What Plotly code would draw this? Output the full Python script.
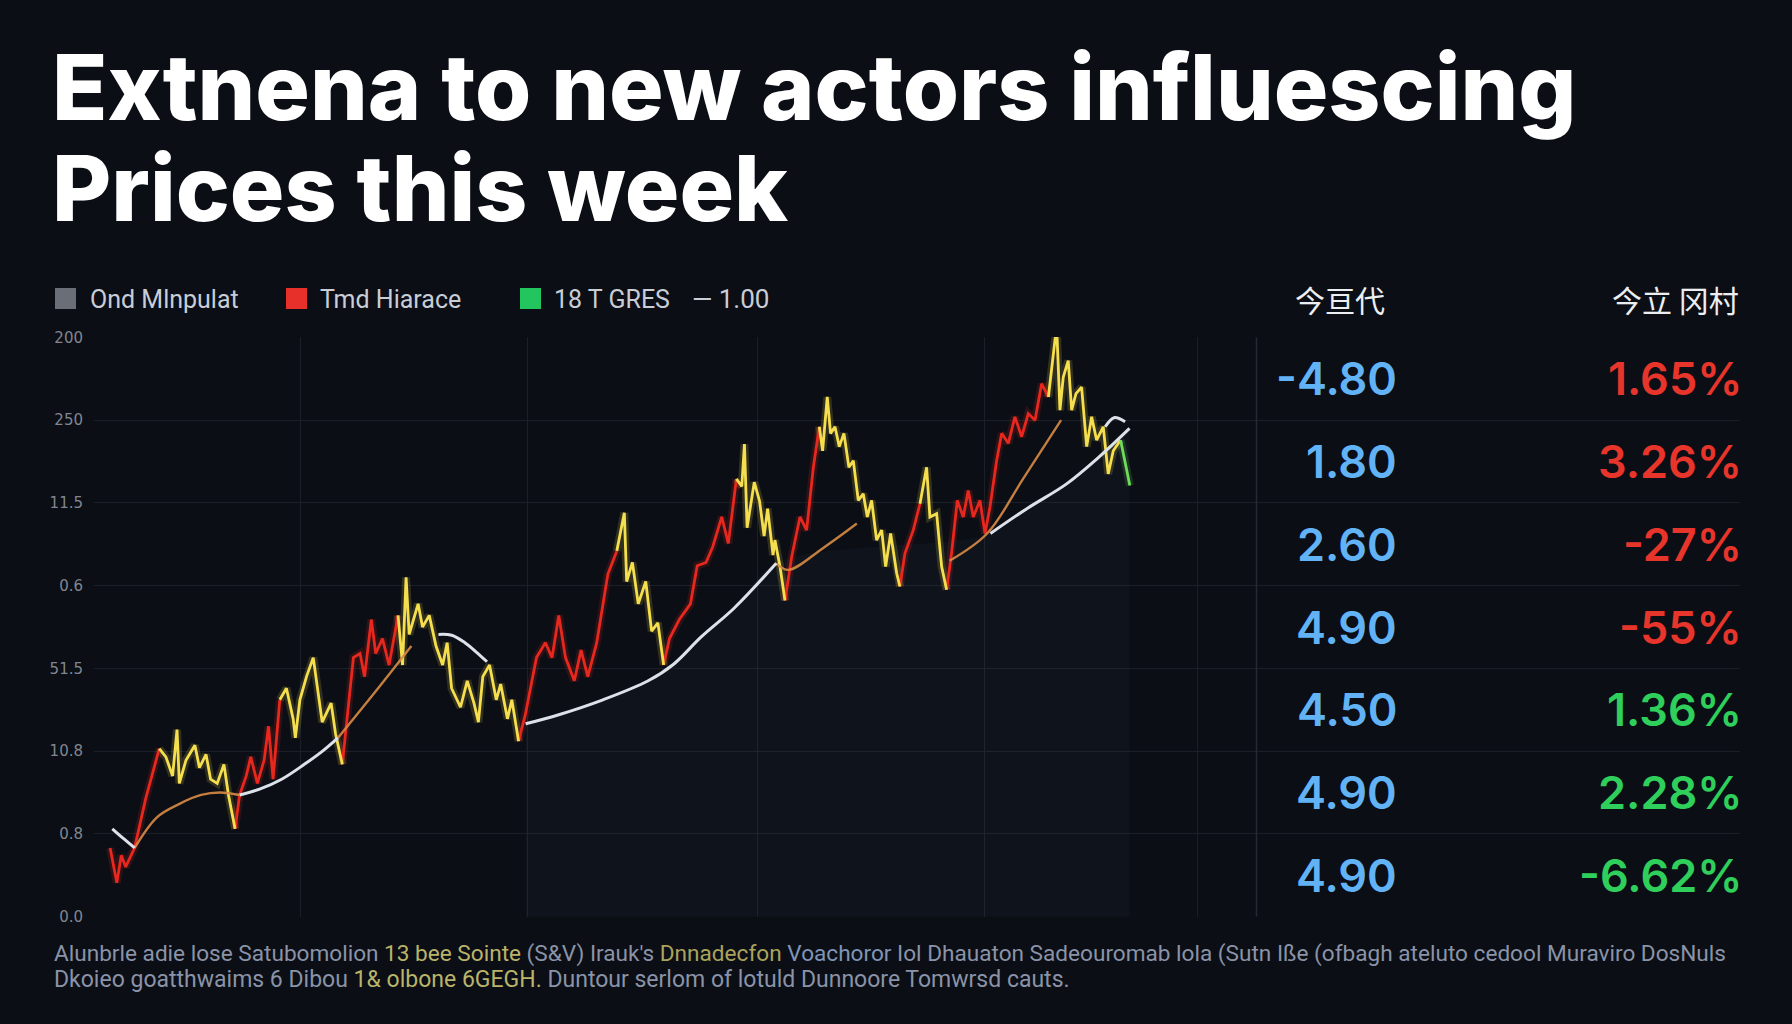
import plotly.graph_objects as go

# ---------------- data ----------------
session = [1.46, 2.07, 2.47, 2.87, 3.68, 4.69, 5.91, 6.51, 7.12, 7.52, 7.73, 8.33, 9.14, 9.55, 10.15,
           10.56, 11.16, 11.77, 12.18, 12.78, 13.19, 13.79, 14.20, 14.80, 15.41, 15.81, 16.22, 16.83,
           17.43, 18.04, 18.24, 18.65, 19.25, 19.86, 20.26, 20.67, 21.48, 21.88, 22.49, 23.50, 24.10,
           24.51, 25.12, 25.52, 26.13, 26.73, 27.54, 27.95, 28.27, 28.55, 29.36, 29.76, 30.37, 30.98,
           31.58, 31.99, 32.39, 33.20, 33.81, 34.42, 34.82, 35.22, 35.83, 36.44, 36.84, 37.45, 37.85,
           38.46, 39.07, 40.08, 40.89, 41.49, 42.10, 42.71, 43.51, 44.12, 44.73, 45.54, 46.55, 47.36,
           48.04, 48.25, 48.77, 49.30, 49.98, 50.51, 51.08, 51.60, 52.13, 53.02, 54.03, 54.64, 55.44,
           56.05, 56.86, 57.46, 58.19, 58.68, 58.92, 59.16, 59.81, 60.29, 60.70, 61.02, 61.51, 61.68,
           62.14, 62.59, 63.20, 63.95, 64.55, 65.16, 65.70, 66.00, 66.42, 66.72, 67.12, 67.51, 67.93,
           68.38, 68.78, 69.23, 69.68, 70.05, 70.44, 70.89, 71.35, 71.71, 72.16, 72.71, 73.00, 73.46,
           74.21, 74.82, 75.42, 75.72, 76.33, 76.78, 77.23, 77.68, 78.20, 78.74, 79.19, 79.65, 80.25,
           80.71, 81.16, 81.76, 82.22, 82.82, 83.42, 84.03, 84.63, 85.24, 85.84, 86.45, 86.84, 87.20,
           87.50, 87.80, 88.25, 88.56, 88.95, 89.46, 89.92, 90.37, 90.82, 91.42, 91.87, 92.33, 92.99,
           93.38, 93.83]
price = [0.83, 0.41, 0.74, 0.60, 0.83, 1.43, 2.03, 1.93, 1.70, 2.26, 1.61, 1.89, 2.07, 1.80, 1.96,
         1.66, 1.61, 1.84, 1.47, 1.06, 1.47, 1.70, 1.93, 1.61, 1.89, 2.30, 1.66, 2.62,
         2.76, 2.39, 2.16, 2.62, 2.90, 3.13, 2.76, 2.35, 2.58, 2.21, 1.84, 3.13, 3.18,
         2.90, 3.59, 3.18, 3.36, 3.04, 3.64, 3.04, 4.10, 3.41, 3.78, 3.50, 3.64, 3.27,
         3.04, 3.31, 2.76, 2.53, 2.85, 2.58, 2.35, 2.90, 3.04, 2.62, 2.81, 2.39, 2.62,
         2.12, 2.44, 3.13, 3.31, 3.13, 3.64, 3.13, 2.85, 3.22, 2.90, 3.31, 4.14, 4.42,
         4.88, 4.05, 4.28, 3.78, 4.05, 3.45, 3.55, 3.04, 3.36, 3.59, 3.78, 4.24, 4.28,
         4.47, 4.83, 4.51, 5.29, 5.20, 5.71, 4.70, 5.25, 5.02, 4.60, 4.93, 4.37, 4.55,
         4.23, 3.82, 4.35, 4.83, 4.67, 5.43, 5.92, 5.63, 6.28, 5.84, 5.92, 5.68, 5.84,
         5.43, 5.51, 5.03, 5.11, 4.83, 5.03, 4.55, 4.67, 4.23, 4.63, 4.15, 3.99, 4.39,
         4.67, 4.99, 5.43, 4.83, 4.87, 4.23, 3.95, 4.39, 5.03, 4.83, 5.15, 4.83, 5.03,
         4.63, 4.95, 5.51, 5.84, 5.72, 6.04, 5.80, 6.08, 6.00, 6.44, 6.28, 6.72, 7.14,
         6.12, 6.52, 6.72, 6.12, 6.32, 6.40, 5.68, 6.04, 5.76, 5.92, 5.35, 5.63, 5.76,
         5.51, 5.21]

# end of each price leg and its direction
leg_end = [5.91, 12.78, 16.83, 22.49, 27.54, 38.46, 47.36, 51.60, 58.19, 62.59, 65.70, 73.00,
           74.82, 77.23, 86.45, 92.99, 93.83]
leg_trend = ["up", "down", "up", "down", "up", "down", "up", "down", "up", "down", "up", "down",
             "up", "down", "up", "down", "last"]

# moving averages (segments visible in the picture)
slow_ma_x = [[1.66, 2.60, 3.68], [13.2, 15.0, 17.0, 19.05, 20.7, 22.1], [31.2, 32.4, 33.6, 34.6, 35.6],
             [39.1, 42.1, 46.1, 50.2, 52.5, 55.0, 58.0, 61.8], [81.2, 84.5, 88.1, 91.0, 93.8],
             [91.6, 92.4, 93.4]]
slow_ma_y = [[1.06, 0.95, 0.83], [1.47, 1.54, 1.66, 1.84, 2.00, 2.16], [3.41, 3.40, 3.31, 3.20, 3.08],
             [2.33, 2.44, 2.62, 2.85, 3.05, 3.38, 3.73, 4.27], [4.63, 4.93, 5.23, 5.55, 5.90],
             [5.92, 6.03, 5.98]]
fast_ma_x = [[3.68, 5.7, 7.7, 9.7, 11.4, 13.2], [22.1, 25.5, 28.75], [61.8, 62.9, 66.0, 69.1],
             [77.5, 80.9, 84.2, 87.6]]
fast_ma_y = [[0.83, 1.20, 1.36, 1.47, 1.50, 1.47], [2.16, 2.72, 3.27], [4.27, 4.19, 4.45, 4.75],
             [4.30, 4.63, 5.30, 6.00]]

y_ticks = [0, 1, 2, 3, 4, 5, 6, 7]
y_ticktext = ["0.0", "0.8", "10.8", "51.5", "0.6", "11.5", "250", "200"]

legend_labels = ["Ond Mlnpulat", "Tmd Hiarace", "18 T GRES"]
legend_extra = "— 1.00"

table_headers = ["今亘代", "今立 冈村"]
table_col1 = ["-4.80", "1.80", "2.60", "4.90", "4.50", "4.90", "4.90"]
table_col2 = ["1.65%", "3.26%", "-27%", "-55%", "1.36%", "2.28%", "-6.62%"]
table_col2_sign = ["red", "red", "red", "red", "green", "green", "green"]

title_lines = ["Extnena to new actors influescing", "Prices this week"]
footer_lines = [
    "Alunbrle adie lose Satubomolion <span style='color:#b9b46a'>13 bee Sointe</span> (S&V) Irauk's "
    "<span style='color:#a9a35c'>Dnnadecfon</span> <span style='color:#7f95b8'>Voachoror</span> Iol Dhauaton "
    "Sadeouromab lola (Sutn Iße (ofbagh ateluto cedool Muraviro DosNuls",
    "Dkoieo goatthwaims 6 Dibou <span style='color:#b9b46a'>1& olbone 6GEGH.</span> Duntour serlom of lotuld "
    "Dunnoore Tomwrsd cauts.",
]

# ---------------- styling ----------------
BG = "#0b0e15"
GRID = "#1b1f28"
RED = "#e8281e"
YELLOW = "#f6df4f"
GREEN = "#6fdc5a"
BLUE = "#62b3f5"
TRED = "#e8352b"
TGREEN = "#2fcf5b"

L, R, T, B = 94, 1740, 337, 917  # plot area in pixels


def pxx(x):
    return (x - L) / (R - L)


def pyy(y):
    return (B - y) / (B - T)


fig = go.Figure()

# subtle area under the slow moving average
area_x = slow_ma_x[3] + slow_ma_x[4]
area_y = slow_ma_y[3] + slow_ma_y[4]
fig.add_trace(go.Scatter(x=area_x, y=area_y, mode="lines", line=dict(width=0, shape="spline"),
                         fill="tozeroy", fillcolor="rgba(140,150,170,0.04)", hoverinfo="skip",
                         showlegend=False))

# price legs
colors = {"up": RED, "down": YELLOW, "last": GREEN}
segs = {"up": ([], []), "down": ([], []), "last": ([], [])}
start = 0
for end_x, trend in zip(leg_end, leg_trend):
    idx = session.index(end_x)
    xs, ys = segs[trend]
    xs.extend(session[start:idx + 1] + [None])
    ys.extend(price[start:idx + 1] + [None])
    start = idx

for trend in ["up", "down", "last"]:
    xs, ys = segs[trend]
    fig.add_trace(go.Scatter(x=xs, y=ys, mode="lines", line=dict(color=colors[trend], width=8),
                             opacity=0.16, hoverinfo="skip", showlegend=False, connectgaps=False))
for trend in ["up", "down", "last"]:
    xs, ys = segs[trend]
    fig.add_trace(go.Scatter(x=xs, y=ys, mode="lines", line=dict(color=colors[trend], width=2.8),
                             showlegend=False, connectgaps=False))

# moving averages
for xs, ys in zip(fast_ma_x, fast_ma_y):
    fig.add_trace(go.Scatter(x=xs, y=ys, mode="lines", line=dict(color="#d88b45", width=2.4, shape="spline"),
                             opacity=0.9, showlegend=False))
for xs, ys in zip(slow_ma_x, slow_ma_y):
    fig.add_trace(go.Scatter(x=xs, y=ys, mode="lines", line=dict(color="#dde2ea", width=3, shape="spline"),
                             showlegend=False))

annotations = []
shapes = []

# title
for i, line in enumerate(title_lines):
    annotations.append(dict(text=line, xref="paper", yref="paper", x=pxx(50), y=pyy(87 + 101 * i),
                            xanchor="left", yanchor="middle", showarrow=False,
                            font=dict(family="Inter", size=91, color="#ffffff", weight=800)))

# legend
leg_sq_x = [55, 286, 520]
leg_txt_x = [88, 318, 552]
leg_cols = ["#6a6e77", "#e8302a", "#22c55e"]
for sx, tx, lab, col in zip(leg_sq_x, leg_txt_x, legend_labels, leg_cols):
    shapes.append(dict(type="rect", xref="paper", yref="paper", x0=pxx(sx), x1=pxx(sx + 21),
                       y0=pyy(309), y1=pyy(288), fillcolor=col, line=dict(width=0)))
    annotations.append(dict(text=lab, xref="paper", yref="paper", x=pxx(tx), y=pyy(299),
                            xanchor="left", yanchor="middle", showarrow=False,
                            font=dict(family="Roboto", size=25, color="#c9cdd5")))
annotations.append(dict(text=legend_extra, xref="paper", yref="paper", x=pxx(690), y=pyy(299),
                        xanchor="left", yanchor="middle", showarrow=False,
                        font=dict(family="Roboto", size=26, color="#c9cdd5")))

# table header
annotations.append(dict(text=table_headers[0], xref="paper", yref="paper", x=pxx(1340), y=pyy(299),
                        xanchor="center", yanchor="middle", showarrow=False,
                        font=dict(family="Noto Sans CJK SC", size=30, color="#eceef2")))
annotations.append(dict(text=table_headers[1], xref="paper", yref="paper", x=pxx(1741), y=pyy(299),
                        xanchor="right", yanchor="middle", showarrow=False,
                        font=dict(family="Noto Sans CJK SC", size=30, color="#eceef2")))

# table rows
for i, (v1, v2, sgn) in enumerate(zip(table_col1, table_col2, table_col2_sign)):
    yc = y_ticks[-1] - 0.5 - i
    annotations.append(dict(text=v1, xref="paper", yref="y", x=pxx(1399), y=yc, xanchor="right",
                            yanchor="middle", showarrow=False,
                            font=dict(family="Inter", size=45, color=BLUE, weight=600)))
    annotations.append(dict(text=v2, xref="paper", yref="y", x=pxx(1744), y=yc, xanchor="right",
                            yanchor="middle", showarrow=False,
                            font=dict(family="Inter", size=45, color=TRED if sgn == "red" else TGREEN,
                                      weight=600)))

# table divider
shapes.append(dict(type="line", xref="x", yref="y", x0=105.3, x1=105.3, y0=0, y1=7,
                   line=dict(color="#242934", width=1.5)))

# footer
footer_sizes = [22.6, 23]
for i, (line, fs) in enumerate(zip(footer_lines, footer_sizes)):
    annotations.append(dict(text=line, xref="paper", yref="paper", x=pxx(52), y=pyy(953 + 26 * i),
                            xanchor="left", yanchor="middle", showarrow=False,
                            font=dict(family="Roboto", size=fs, color="#8a93a7")))

fig.update_layout(
    width=1792, height=1024,
    paper_bgcolor=BG, plot_bgcolor=BG,
    margin=dict(l=L, r=1792 - R, t=T, b=1024 - B, pad=0),
    showlegend=False,
    xaxis=dict(range=[0, 149.1], tickvals=[0, 18.75, 39.3, 60.1, 80.7, 100], showticklabels=False,
               showgrid=True, gridcolor=GRID, gridwidth=1, zeroline=False, showline=False, ticks=""),
    yaxis=dict(range=[-0.005, 7.005], tickvals=y_ticks, ticktext=y_ticktext, showgrid=True,
               gridcolor=GRID, gridwidth=1.2, zeroline=False, showline=False, ticks="",
               tickfont=dict(family="DejaVu Sans", size=15, color="#80858f"), ticklabelstandoff=10),
    annotations=annotations,
    shapes=shapes,
)

fig.write_html(
    "out.html",
    config={"displayModeBar": False},
    post_script="document.body.style.margin='0px';document.body.style.background='#0b0e15';"
                "document.documentElement.style.background='#0b0e15';",
)
